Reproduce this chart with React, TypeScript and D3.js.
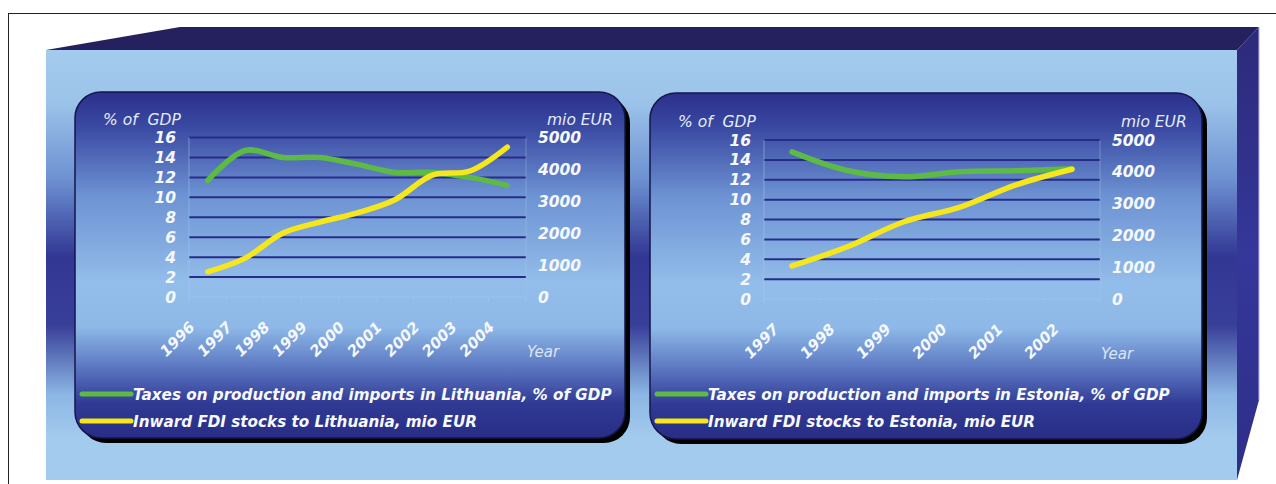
import React from "react";
import * as d3 from "d3";

// Lithuania
const ltYears = ["1996", "1997", "1998", "1999", "2000", "2001", "2002", "2003", "2004"];
const ltTaxes = [11.7, 14.7, 14.0, 14.0, 13.3, 12.5, 12.5, 12.0, 11.2];
const ltFdi = [790, 1220, 2000, 2350, 2640, 3050, 3820, 3950, 4700];

// Estonia
const eeYears = ["1997", "1998", "1999", "2000", "2001", "2002"];
const eeTaxes = [14.8, 12.9, 12.3, 12.8, 12.9, 13.1];
const eeFdi = [1040, 1650, 2430, 2890, 3590, 4080];

const pctTicks = [0, 2, 4, 6, 8, 10, 12, 14, 16];
const eurTicks = [0, 1000, 2000, 3000, 4000, 5000];

const FONT = "'DejaVu Sans', Verdana, sans-serif";
const GREEN = "#5cba45";
const YELLOW = "#f6e71c";
const GRID = "#262c88";
const LABEL = "#f5f8fd";

type PanelProps = {
  box: [number, number, number, number];
  plot: { left: number; right: number; top: number; bottom: number };
  years: string[];
  taxes: number[];
  fdi: number[];
  taxLabel: string;
  fdiLabel: string;
};

function Panel({ box, plot, years, taxes, fdi, taxLabel, fdiLabel }: PanelProps) {
  const [bx0, by0, bx1, by1] = box;
  const x = d3.scaleBand<string>().domain(years).range([plot.left, plot.right]);
  const bw = x.bandwidth();
  const cx = (y: string) => (x(y) as number) + bw / 2;
  const yPct = d3.scaleLinear().domain([0, 16]).range([plot.bottom, plot.top]);
  const yEur = d3.scaleLinear().domain([0, 5000]).range([plot.bottom, plot.top]);

  const taxLine = d3
    .line<number>()
    .x((_, i) => cx(years[i]))
    .y((d) => yPct(d))
    .curve(d3.curveCatmullRom.alpha(0.5));
  const fdiLine = d3
    .line<number>()
    .x((_, i) => cx(years[i]))
    .y((d) => yEur(d))
    .curve(d3.curveCatmullRom.alpha(0.5));

  const boundaries = [...years.map((y) => x(y) as number), plot.right];

  return (
    <g>
      <rect x={bx0 + 5} y={by0 + 5} width={bx1 - bx0} height={by1 - by0} rx={26} fill="#000" />
      <rect
        x={bx0}
        y={by0}
        width={bx1 - bx0}
        height={by1 - by0}
        rx={26}
        fill="url(#panelGrad)"
        stroke="#15164a"
        strokeWidth={1.5}
      />

      {/* grid */}
      {pctTicks
        .filter((t) => t > 0)
        .map((t) => (
          <line
            key={t}
            x1={plot.left}
            x2={plot.right}
            y1={yPct(t)}
            y2={yPct(t)}
            stroke={GRID}
            strokeWidth={2}
          />
        ))}
      <line x1={plot.left} x2={plot.right} y1={plot.bottom} y2={plot.bottom} stroke="#a9c9ee" strokeOpacity={0.6} />
      <line x1={plot.left} x2={plot.left} y1={plot.top} y2={plot.bottom} stroke="#a9c9ee" strokeOpacity={0.5} />
      <line x1={plot.right} x2={plot.right} y1={plot.top} y2={plot.bottom} stroke="#a9c9ee" strokeOpacity={0.4} />
      {boundaries.map((b, i) => (
        <line key={i} x1={b} x2={b} y1={plot.bottom} y2={plot.bottom + 4} stroke="#a9c9ee" strokeOpacity={0.6} />
      ))}

      {/* axis titles */}
      <text
        x={plot.left - 86}
        y={plot.top - 13}
        fill="#e4ecf8"
        fontFamily={FONT}
        fontStyle="italic"
        fontSize={15.5}
        xmlSpace="preserve"
        style={{ whiteSpace: "pre" }}
      >
        {"% of  GDP"}
      </text>
      <text x={plot.right + 21} y={plot.top - 13} fill="#e4ecf8" fontFamily={FONT} fontStyle="italic" fontSize={15.5}>
        mio EUR
      </text>

      {/* left axis */}
      {pctTicks.map((t) => (
        <text
          key={t}
          x={plot.left - 13}
          y={yPct(t)}
          dy="0.36em"
          textAnchor="end"
          fill={LABEL}
          fontFamily={FONT}
          fontStyle="italic"
          fontWeight="bold"
          fontSize={15.5}
        >
          {t}
        </text>
      ))}
      {/* right axis */}
      {eurTicks.map((t) => (
        <text
          key={t}
          x={plot.right + 12}
          y={yEur(t)}
          dy="0.36em"
          fill={LABEL}
          fontFamily={FONT}
          fontStyle="italic"
          fontWeight="bold"
          fontSize={15.5}
        >
          {t}
        </text>
      ))}

      {/* category labels */}
      {years.map((y) => (
        <text
          key={y}
          transform={`translate(${cx(y) - 12},${plot.bottom + 31}) rotate(-45)`}
          textAnchor="end"
          fill={LABEL}
          fontFamily={FONT}
          fontStyle="italic"
          fontWeight="bold"
          fontSize={15}
        >
          {y}
        </text>
      ))}
      <text x={plot.right + 1} y={plot.bottom + 60} fill="#dbe6f6" fontFamily={FONT} fontStyle="italic" fontSize={15}>
        Year
      </text>

      {/* series */}
      <path d={taxLine(taxes) as string} fill="none" stroke={GREEN} strokeWidth={5.5} strokeLinecap="round" strokeLinejoin="round" />
      <path d={fdiLine(fdi) as string} fill="none" stroke={YELLOW} strokeWidth={5.5} strokeLinecap="round" strokeLinejoin="round" />

      {/* legend */}
      <line x1={bx0 + 7} x2={bx0 + 56} y1={394} y2={394} stroke={GREEN} strokeWidth={5} strokeLinecap="round" />
      <line x1={bx0 + 7} x2={bx0 + 56} y1={421} y2={421} stroke={YELLOW} strokeWidth={5} strokeLinecap="round" />
      <text x={bx0 + 58} y={399.5} fill="#f7f9fd" fontFamily={FONT} fontStyle="italic" fontWeight="bold" fontSize={15.2}>
        {taxLabel}
      </text>
      <text x={bx0 + 58} y={426.5} fill="#f7f9fd" fontFamily={FONT} fontStyle="italic" fontWeight="bold" fontSize={15.2}>
        {fdiLabel}
      </text>
    </g>
  );
}

export default function App() {
  return (
    <svg
      width={1276}
      height={484}
      style={{ position: "absolute", left: 0, top: 0, background: "#fff" }}
    >
      <defs>
        <linearGradient id="faceGrad" x1="0" y1="0" x2="0" y2="1">
          <stop offset="0" stopColor="#a3cbee" />
          <stop offset="0.12" stopColor="#9cc4ea" />
          <stop offset="0.3" stopColor="#6d91d1" />
          <stop offset="0.48" stopColor="#323794" />
          <stop offset="0.64" stopColor="#383f99" />
          <stop offset="0.8" stopColor="#8bb5e3" />
          <stop offset="0.9" stopColor="#a3cbee" />
          <stop offset="1" stopColor="#a3cbee" />
        </linearGradient>
        <linearGradient id="panelGrad" x1="0" y1="0" x2="0" y2="1">
          <stop offset="0" stopColor="#2b2f8c" />
          <stop offset="0.1" stopColor="#3a49a2" />
          <stop offset="0.3" stopColor="#6d93d3" />
          <stop offset="0.55" stopColor="#93bdea" />
          <stop offset="0.68" stopColor="#8db8e7" />
          <stop offset="0.8" stopColor="#5a75c0" />
          <stop offset="0.9" stopColor="#303a94" />
          <stop offset="1" stopColor="#282d85" />
        </linearGradient>
        <linearGradient id="sideGrad" x1="0" y1="0" x2="0" y2="1">
          <stop offset="0" stopColor="#2c2a7a" />
          <stop offset="0.5" stopColor="#35379a" />
          <stop offset="1" stopColor="#2e2e88" />
        </linearGradient>
      </defs>

      {/* frame */}
      <line x1={8} x2={1276} y1={13.5} y2={13.5} stroke="#222" strokeWidth={1} />
      <line x1={8.5} x2={8.5} y1={13} y2={484} stroke="#222" strokeWidth={1} />

      {/* box */}
      <polygon points="46,50 180,27 1259,27 1237,50" fill="#25215f" />
      <polygon points="1237,50 1259,27 1259,400 1237,480" fill="url(#sideGrad)" />
      <line x1={1259} x2={1259} y1={27} y2={400} stroke="#b9b6e6" strokeWidth={1} />
      <rect x={46} y={50} width={1191} height={430} fill="url(#faceGrad)" />

      <Panel
        box={[75, 92, 625, 438]}
        plot={{ left: 189, right: 526, top: 137.5, bottom: 297 }}
        years={ltYears}
        taxes={ltTaxes}
        fdi={ltFdi}
        taxLabel="Taxes on production and imports in Lithuania, % of GDP"
        fdiLabel="Inward FDI stocks to Lithuania, mio EUR"
      />
      <Panel
        box={[650, 93, 1202, 439]}
        plot={{ left: 764, right: 1100, top: 140, bottom: 299 }}
        years={eeYears}
        taxes={eeTaxes}
        fdi={eeFdi}
        taxLabel="Taxes on production and imports in Estonia, % of GDP"
        fdiLabel="Inward FDI stocks to Estonia, mio EUR"
      />
    </svg>
  );
}
